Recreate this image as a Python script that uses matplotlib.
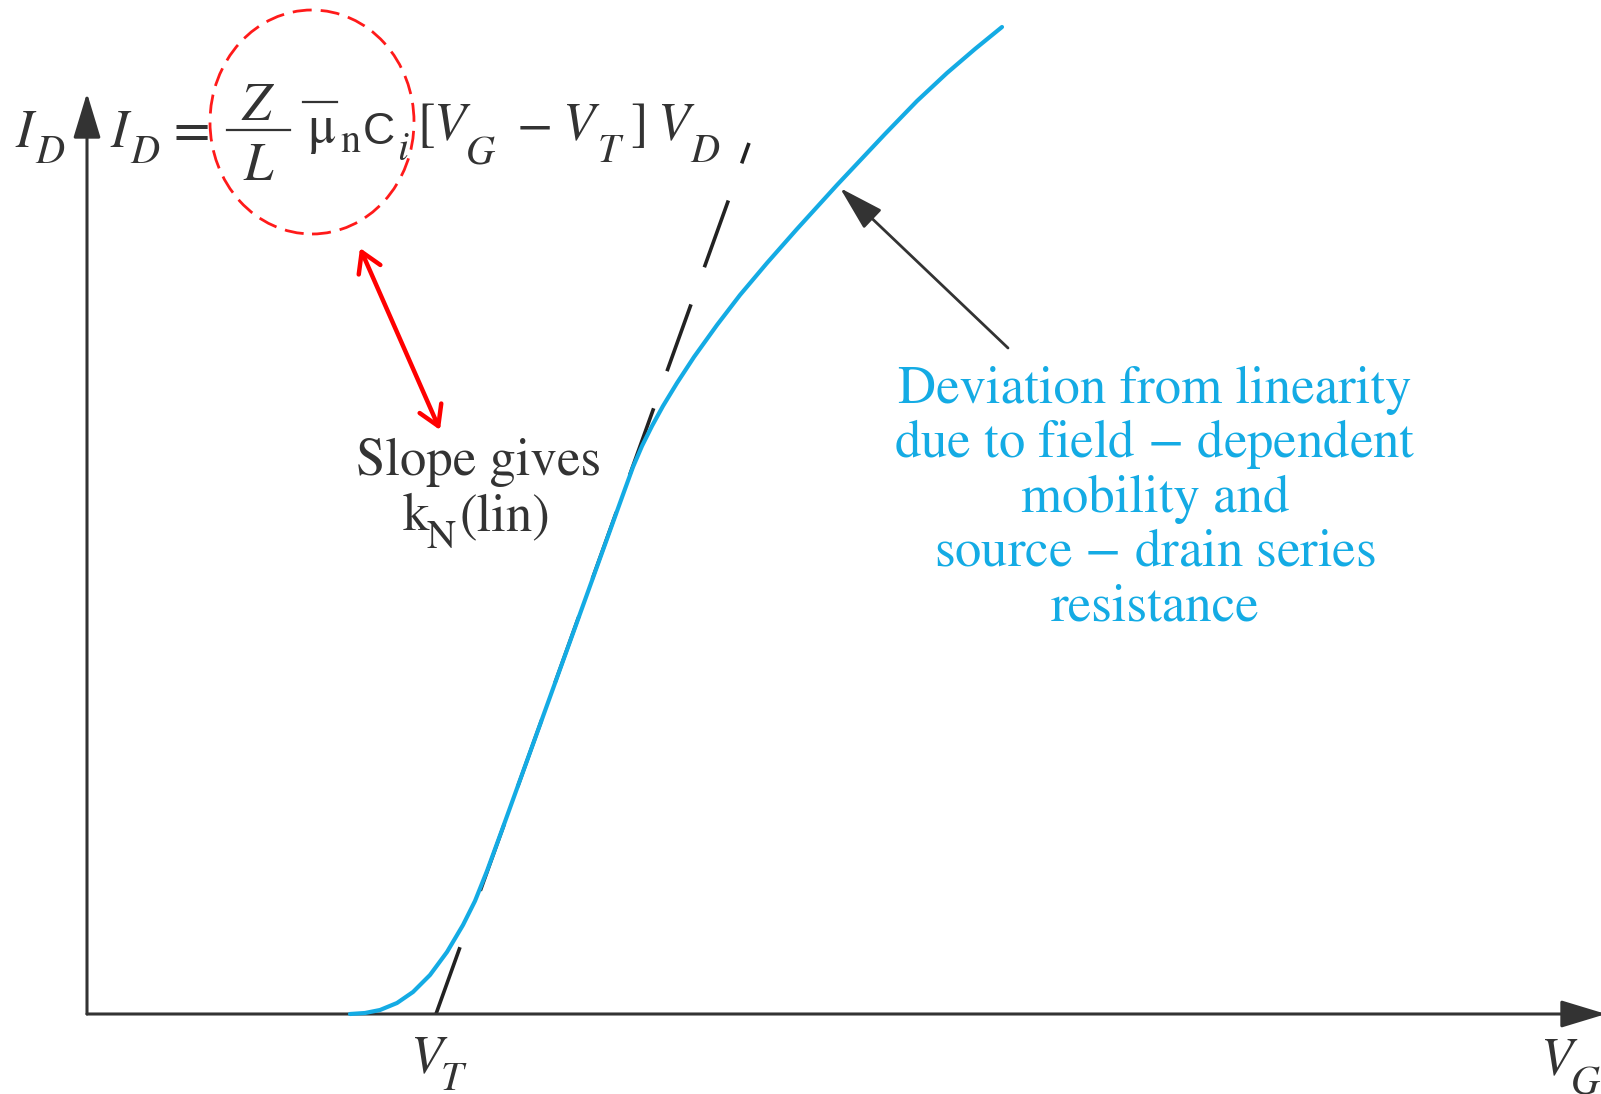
import matplotlib
matplotlib.use('Agg')
import matplotlib.pyplot as plt
from matplotlib.patches import Ellipse

plt.rcParams['mathtext.fontset'] = 'stix'
plt.rcParams['font.family'] = 'STIXGeneral'
plt.rcParams['lines.scale_dashes'] = False

# transfer characteristic I_D(V_G), arbitrary units
vg = [2.63, 2.78, 2.93, 3.10, 3.26, 3.43, 3.60, 3.76, 3.88, 4.00, 4.15,
      4.63, 5.38, 5.46, 5.55, 5.65, 5.76, 5.90, 6.07, 6.30, 6.53, 6.80,
      7.10, 7.50, 7.98, 8.30, 8.60, 8.88, 9.15]
id_d = [0.00, 0.01, 0.04, 0.11, 0.22, 0.39, 0.62, 0.89, 1.13, 1.43, 1.84,
        3.17, 5.25, 5.47, 5.68, 5.88, 6.08, 6.31, 6.57, 6.89, 7.19, 7.51,
        7.85, 8.29, 8.80, 9.13, 9.41, 9.65, 9.87]

# linear extrapolation: starts at V_T on the axis
vt = 3.49
tan_vg = [vt, 6.62]
tan_id = [0.0, 8.71]

note_lines = ['Deviation from linearity',
              r'due to field $-$ dependent',
              'mobility and',
              r'source $-$ drain series',
              'resistance']

BLUE = '#14abe4'
DARK = '#333333'
FS = 38      # main text size
FS_SUB = 29  # subscripts

fig = plt.figure(figsize=(16.01, 10.94), dpi=100)
ax = fig.add_axes([0, 0, 1, 1])
ax.set_xlim(-0.87, 15.14)
ax.set_ylim(-0.80, 10.14)
ax.axis('off')

# axes with arrow heads
ax_arrow = dict(arrowstyle='-|>,head_length=2.8,head_width=0.85', color=DARK,
                lw=2.2, mutation_scale=10, shrinkA=0, shrinkB=0)
ax.annotate('', xy=(15.19, 0), xytext=(0, 0), arrowprops=ax_arrow,
            annotation_clip=False)
ax.annotate('', xy=(0, 9.21), xytext=(0, 0), arrowprops=ax_arrow,
            annotation_clip=False)

# dashed tangent, uneven first gap
dash = [51.1, 43.2] + [51.1, 28.4] * 7 + [51.1, 200]
ax.plot(tan_vg, tan_id, color='#222222', lw=2.6, dashes=dash, zorder=2)

# measured curve
ax.plot(vg, id_d, color=BLUE, lw=3.0, solid_capstyle='round', zorder=3)


def put(x, y, s, size=FS, **kw):
    ax.text(x, y, s, fontsize=size, color=DARK, ha='left', va='baseline', **kw)


# axis labels
put(-0.72, 8.67, r'$I$')
put(-0.52, 8.51, r'$D$', FS_SUB)
put(3.23, -0.59, r'$V$')
put(3.53, -0.76, r'$T$', FS_SUB)
put(14.53, -0.61, r'$V$')
put(14.83, -0.79, r'$G$', FS_SUB)

# I_D = (Z/L) mu_n C_i [V_G - V_T] V_D
put(0.23, 8.67, r'$I$')
put(0.43, 8.51, r'$D$', FS_SUB)
put(0.86, 8.67, '=')
ax.text(1.71, 8.94, r'$Z$', fontsize=FS, color=DARK, ha='center', va='baseline')
ax.text(1.72, 8.34, r'$L$', fontsize=FS, color=DARK, ha='center', va='baseline')
ax.plot([1.40, 2.03], [8.84, 8.84], color=DARK, lw=1.6)
ax.plot([2.16, 2.50], [9.12, 9.12], color=DARK, lw=1.6)
put(2.20, 8.72, '\u03bc')
put(2.53, 8.62, 'n', FS_SUB)
put(2.76, 8.70, 'C', 32, family='Liberation Sans')
put(3.10, 8.54, r'$i$', FS_SUB)
put(3.30, 8.74, '[')
put(3.46, 8.74, r'$V$')
put(3.78, 8.51, r'$G$', FS_SUB)
put(4.30, 8.74, '\u2212')
put(4.75, 8.74, r'$V$')
put(5.10, 8.52, r'$T$', FS_SUB)
put(5.43, 8.74, ']')
put(5.70, 8.74, r'$V$')
put(6.03, 8.52, r'$D$', FS_SUB)

# slope note
ax.text(3.91, 5.39, 'Slope gives', fontsize=FS, color=DARK, ha='center',
        va='baseline')
put(3.16, 4.84, 'k')
put(3.40, 4.66, 'N', FS_SUB)
put(3.73, 4.84, '(lin)')

for i, line in enumerate(note_lines):
    ax.text(10.68, 6.11 - i * 0.543, line, fontsize=FS, color=BLUE,
            ha='center', va='baseline')

# pointer to the bending part of the curve
ax.annotate('', xy=(7.53, 8.26), xytext=(9.21, 6.66),
            arrowprops=dict(arrowstyle='-|>,head_length=2.8,head_width=0.8',
                            color=DARK, lw=2.0, mutation_scale=10,
                            shrinkA=0, shrinkB=0))

# red highlight around Z/L and the double arrow to the slope note
ax.add_patch(Ellipse((2.25, 8.92), 2.04, 2.24, fill=False, ec='#ff1a1a',
                     lw=2.0, ls=(0, (13.7, 6.5))))
ax.annotate('', xy=(2.73, 7.66), xytext=(3.53, 5.84),
            arrowprops=dict(arrowstyle='<->,head_length=1.4,head_width=0.85',
                            color='#ff0000', lw=3.2, mutation_scale=10,
                            shrinkA=0, shrinkB=0))

fig.savefig('out.png', dpi=100)
